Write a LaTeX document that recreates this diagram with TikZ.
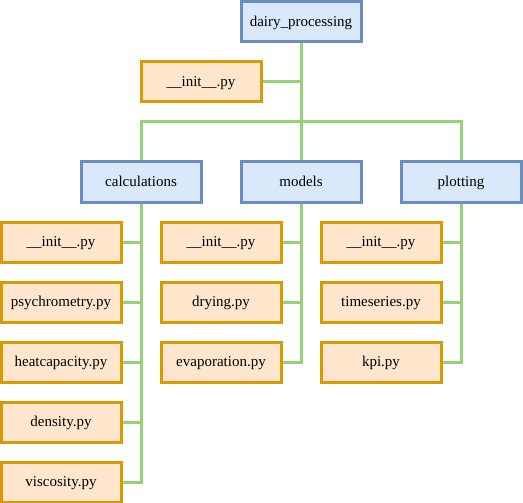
\documentclass[tikz,border=0pt]{standalone}
\usepackage{fontspec}
\setmainfont{Liberation Serif}
\definecolor{pkgfill}{HTML}{DAE8FC}
\definecolor{pkgline}{HTML}{6C8EBF}
\definecolor{modfill}{HTML}{FFE6CC}
\definecolor{modline}{HTML}{D79B00}
\definecolor{linkgreen}{HTML}{97D077}
\begin{document}
\begin{tikzpicture}[
  x=1pt, y=-1pt,
  pkg/.style={rectangle, draw=pkgline, fill=pkgfill, line width=3pt, minimum width=120pt, minimum height=40pt, inner sep=0pt, text height=2ex, text depth=0.2ex},
  mod/.style={rectangle, draw=modline, fill=modfill, line width=3pt, minimum width=120pt, minimum height=40pt, inner sep=0pt, text height=2ex, text depth=0.2ex},
  link/.style={draw=linkgreen, line width=3pt},
  node distance=60pt,
  font=\fontsize{15}{18}\selectfont
]
\useasboundingbox (0,0) rectangle (523,503);
\node[pkg] (root) at (301,22) {dairy\_processing};
\node[mod, below of=root, xshift=-100pt] (rootinit) {\_\_init\_\_.py};
\node[pkg, below of=root, node distance=160pt] (models) {models};
\node[pkg, left of=models, node distance=160pt] (calc) {calculations};
\node[pkg, right of=models, node distance=160pt] (plot) {plotting};
\coordinate[below of=root, node distance=100pt] (bus);

% calculations
\node[mod, below of=calc, xshift=-80pt] (calcinit) {\_\_init\_\_.py};
\node[mod, below of=calcinit] (psychro) {psychrometry.py};
\node[mod, below of=psychro] (heatcap) {heatcapacity.py};
\node[mod, below of=heatcap] (density) {density.py};
\node[mod, below of=density] (viscosity) {viscosity.py};

% models
\node[mod, below of=models, xshift=-80pt] (modelsinit) {\_\_init\_\_.py};
\node[mod, below of=modelsinit] (drying) {drying.py};
\node[mod, below of=drying] (evap) {evaporation.py};

% plotting
\node[mod, below of=plot, xshift=-80pt] (plotinit) {\_\_init\_\_.py};
\node[mod, below of=plotinit] (timeseries) {timeseries.py};
\node[mod, below of=timeseries] (kpi) {kpi.py};

\draw[link] (root) -- (models);
\draw[link] (rootinit) -- (rootinit -| root);
\draw[link] (calc) |- (bus) -| (plot);

\draw[link] (calc) |- (viscosity);
\draw[link] (calcinit) -- (calcinit -| calc);
\draw[link] (psychro) -- (psychro -| calc);
\draw[link] (heatcap) -- (heatcap -| calc);
\draw[link] (density) -- (density -| calc);

\draw[link] (models) |- (evap);
\draw[link] (modelsinit) -- (modelsinit -| models);
\draw[link] (drying) -- (drying -| models);

\draw[link] (plot) |- (kpi);
\draw[link] (plotinit) -- (plotinit -| plot);
\draw[link] (timeseries) -- (timeseries -| plot);
\end{tikzpicture}
\end{document}
